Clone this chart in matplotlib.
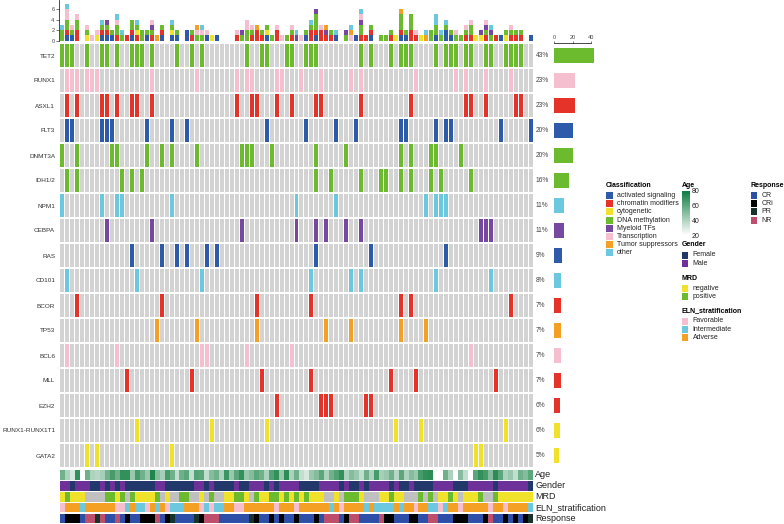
import matplotlib
matplotlib.use("Agg")
import matplotlib.pyplot as plt
import numpy as np
from matplotlib.colors import LinearSegmentedColormap
from matplotlib.patches import Rectangle
from matplotlib.transforms import blended_transform_factory

plt.rcParams['font.family'] = ['Liberation Sans', 'DejaVu Sans']

W, H = 784, 524
n_samples = 95

# genes (top to bottom) and their classification
genes = ['TET2', 'RUNX1', 'ASXL1', 'FLT3', 'DNMT3A', 'IDH1/2', 'NPM1', 'CEBPA', 'RAS',
         'CD101', 'BCOR', 'TP53', 'BCL6', 'MLL', 'EZH2', 'RUNX1-RUNX1T1', 'GATA2']
gene_class = ['DNA methylation', 'Transcription', 'chromatin modifiers', 'activated signaling',
              'DNA methylation', 'DNA methylation', 'other', 'Myeloid TFs', 'activated signaling',
              'other', 'chromatin modifiers', 'Tumor suppressors', 'Transcription',
              'chromatin modifiers', 'chromatin modifiers', 'cytogenetic', 'cytogenetic']
pct = [43, 23, 23, 20, 20, 16, 11, 11, 9, 8, 7, 7, 7, 7, 6, 6, 5]

# mutated sample columns per gene
mut_cols = [
    [0, 1, 2, 5, 8, 9, 11, 14, 15, 16, 18, 23, 26, 28, 37, 40, 41, 45, 46, 49, 50, 51, 60, 62,
     66, 68, 69, 70, 75, 77, 78, 79, 81, 82, 85, 86, 89, 90, 91, 92],
    [1, 2, 3, 5, 6, 7, 18, 27, 35, 37, 38, 43, 44, 48, 52, 58, 60, 71, 79, 81, 85, 90],
    [1, 3, 8, 9, 11, 14, 15, 18, 35, 38, 39, 43, 46, 51, 52, 60, 70, 81, 82, 85, 91, 92],
    [1, 2, 8, 9, 10, 17, 22, 25, 41, 49, 55, 59, 68, 69, 75, 77, 78, 88, 94],
    [0, 3, 10, 11, 17, 20, 22, 27, 36, 37, 38, 42, 51, 57, 68, 70, 74, 75, 80],
    [1, 3, 12, 14, 16, 51, 54, 60, 64, 65, 68, 70, 74, 76, 82],
    [0, 8, 11, 12, 22, 47, 55, 73, 75, 76, 77],
    [9, 18, 36, 47, 51, 53, 57, 60, 84, 85, 86],
    [14, 20, 23, 25, 29, 31, 51, 62, 77],
    [1, 15, 28, 50, 58, 60, 75, 86],
    [3, 20, 39, 50, 68, 70, 90],
    [19, 27, 39, 53, 58, 68, 73],
    [1, 11, 28, 29, 37, 46, 82],
    [13, 26, 40, 50, 66, 71, 87],
    [43, 52, 53, 54, 61, 62],
    [15, 30, 41, 67, 72, 89],
    [5, 7, 22, 83, 84],
]

class_names = ['activated signaling', 'chromatin modifiers', 'cytogenetic', 'DNA methylation',
               'Myeloid TFs', 'Transcription', 'Tumor suppressors', 'other']
class_colors = ['#2D5BAA', '#E5332A', '#F0E22B', '#6CBB2E', '#7648A0', '#F6BFD0',
                '#F4A024', '#6BC8DF']

# sample annotations
age = [55, 40, 30, 70, np.nan, 55, 40, 38, 42, 55, 65, 55, 70, 70, 45, 65, 55, 45, 75, 50,
       42, 65, 55, 35, 55, 60, 35, 62, 60, 35, 50, 55, 40, 68, 45, 60, 70, 45, 50, 60,
       55, 40, 62, 70, 45, 72, 40, 55, 35, 30, 45, 50, 60, 40, 55, 62, 70, 40, 50, 45,
       35, 55, 40, 65, 42, 45, 55, 38, 60, 40, 50, 45, 65, 70, 72, np.nan, np.nan, 55, 40, np.nan,
       50, 35, np.nan, 60, 70, 65, 50, 72, 60, 40, 45, 35, 55, 50, 60]
gender = list("MMFMMMFFMF" "MFMFFFFFFM" "MFFFFFFMMF" "MFFFFMFFMM" "MFMFMMMMFF"
              "FFMMMMFMFF" "MFMMMMFMFF" "MFFFFMMMMF" "FFMMMMMFMM" "MMMMF")
mrd = list("YGYYYNNNNG" "GYGNGYYYYG" "NYNNGGNNYN" "GNNYYGGYNG" "YYGGYGYGYG"
           "YYYNNYNGGG" "YNNNYYGYYN" "NNGNGNYYGY" "NYYYGNNGYY" "YYYYY")
eln = list("PAAAIAAAAA" "APPIAIIPAI" "APIIIAAAPI" "PIIAAPPAAA" "AAAPAAAPAA"
           "AAAAIAPAAA" "AIAIIIIAIA" "APAAIIPIAA" "PAAAAAPAAP" "AAAAI")
response = list("CKKKCNNPNC" "CNCKCCKKKN" "CKPCCCCPKN" "NNCCCCCCPK" "CCKCKCCKCC"
                "CKCNNNCKNN" "CCCCNKKCCC" "KKCCNNCCCK" "KKCCCKNCCK" "CKCKP")

gender_cols = {'F': '#22386A', 'M': '#6E3199'}
mrd_cols = {'Y': '#F0E22B', 'G': '#6CBB2E', 'N': '#C0C0C0'}
eln_cols = {'P': '#F6BFD0', 'I': '#6BC8DF', 'A': '#F4A024'}
resp_cols = {'C': '#2D4FA8', 'K': '#000000', 'P': '#16332C', 'N': '#BE4F6C'}
age_cmap = LinearSegmentedColormap.from_list('age', ['#FFFFFF', '#0A7A3B'])

grey = '#D3D3D3'
cls_idx = {c: i for i, c in enumerate(class_names)}
x = np.arange(n_samples)

fig = plt.figure(figsize=(W / 100, H / 100), dpi=100)


def px_axes(x0, y0, x1, y1):
    return fig.add_axes([x0 / W, 1 - y1 / H, (x1 - x0) / W, (y1 - y0) / H])


# main oncoprint grid
ax = px_axes(60, 43, 533, 468)
mat = np.zeros((len(genes), n_samples), dtype=bool)
for r, cols in enumerate(mut_cols):
    mat[r, cols] = True
    ax.bar(x, 0.92, bottom=r - 0.46, width=0.8, color=grey, linewidth=0)
    ax.bar(cols, 0.92, bottom=r - 0.46, width=0.8,
           color=class_colors[cls_idx[gene_class[r]]], linewidth=0)
ax.set_xlim(-0.5, n_samples - 0.5)
ax.set_ylim(len(genes) - 0.5, -0.5)
ax.set_xticks([])
ax.set_yticks(range(len(genes)))
ax.set_yticklabels(genes, fontsize=4.6, color='#333333')
ax.tick_params(axis='y', length=0, pad=3.5)
for s in ax.spines.values():
    s.set_visible(False)
tr = blended_transform_factory(ax.transAxes, ax.transData)
for r, p in enumerate(pct):
    ax.text(1.006, r, f'{p}%', transform=tr, fontsize=4.8, va='center', ha='left', color='#444444')

# top stacked bar of alteration counts
axt = px_axes(60, 0, 533, 40.7)
bottom = np.zeros(n_samples)
for ci, cname in enumerate(class_names):
    rows = [r for r, g in enumerate(gene_class) if g == cname]
    counts = mat[rows].sum(axis=0) if rows else np.zeros(n_samples)
    axt.bar(x, counts, bottom=bottom, width=0.8, color=class_colors[ci], linewidth=0)
    bottom += counts
axt.set_xlim(-0.5, n_samples - 0.5)
axt.set_ylim(0, 7.7)
axt.set_yticks([0, 2, 4, 6])
axt.tick_params(axis='y', labelsize=4, length=2, width=0.5, pad=1, colors='#444444')
axt.set_xticks([])
for s in ['top', 'right', 'bottom']:
    axt.spines[s].set_visible(False)
axt.spines['left'].set_linewidth(0.5)
axt.spines['left'].set_position(('outward', 1))

# right bar of percentages
axr = px_axes(554, 43, 596, 468)
for r, p in enumerate(pct):
    axr.barh(r, p, height=0.6, color=class_colors[cls_idx[gene_class[r]]], linewidth=0)
axr.set_ylim(len(genes) - 0.5, -0.5)
axr.set_xlim(0, 45)
axr.xaxis.tick_top()
axr.set_xticks([0, 20, 40])
axr.tick_params(axis='x', labelsize=4, length=1.5, width=0.5, pad=1, colors='#444444')
axr.set_yticks([])
for s in ['bottom', 'left', 'right']:
    axr.spines[s].set_visible(False)
axr.spines['top'].set_linewidth(0.5)
axr.spines['top'].set_bounds(0, 40)

# bottom annotation tracks
axb = px_axes(60, 469.5, 533, 524)
tracks = [
    [age_cmap((a - 20) / 60) if not np.isnan(a) else (1, 1, 1, 1) for a in age],
    [gender_cols[v] for v in gender],
    [mrd_cols[v] for v in mrd],
    [eln_cols[v] for v in eln],
    [resp_cols[v] for v in response],
]
track_names = ['Age', 'Gender', 'MRD', 'ELN_stratification', 'Response']
for t, cols in enumerate(tracks):
    axb.bar(x, 0.88, bottom=t - 0.44, width=1.0, color=cols, linewidth=0)
axb.set_xlim(-0.5, n_samples - 0.5)
axb.set_ylim(len(tracks) - 0.5, -0.5)
axb.set_xticks([])
axb.set_yticks([])
for s in axb.spines.values():
    s.set_visible(False)
trb = blended_transform_factory(axb.transAxes, axb.transData)
for t, name in enumerate(track_names):
    axb.text(1.005, t, name, transform=trb, fontsize=6.5, va='center', ha='left', color='#222222')

# legends drawn in pixel space
lg = fig.add_axes([0, 0, 1, 1])
lg.set_xlim(0, W)
lg.set_ylim(H, 0)
lg.axis('off')


def legend_block(x0, y0, title, labels, colors):
    lg.text(x0, y0, title, fontsize=5, fontweight='bold', va='center', ha='left')
    for i, (lab, col) in enumerate(zip(labels, colors)):
        yy = y0 + 10 + i * 8.1
        lg.add_patch(Rectangle((x0 + 0.5, yy - 3.5), 6.5, 7, color=col, linewidth=0))
        lg.text(x0 + 11, yy, lab, fontsize=5, va='center', ha='left', color='#222222')


legend_block(606, 185.7, 'Classification', class_names, class_colors)
legend_block(681.5, 245, 'Gender', ['Female', 'Male'], [gender_cols['F'], gender_cols['M']])
legend_block(681.5, 278.3, 'MRD', ['negative', 'positive'], [mrd_cols['Y'], mrd_cols['G']])
legend_block(681.5, 311, 'ELN_stratification', ['Favorable', 'Intermediate', 'Adverse'],
             [eln_cols['P'], eln_cols['I'], eln_cols['A']])
legend_block(750.5, 185.7, 'Response', ['CR', 'CRi', 'PR', 'NR'],
             [resp_cols['C'], resp_cols['K'], resp_cols['P'], resp_cols['N']])

lg.text(681.5, 185.7, 'Age', fontsize=5, fontweight='bold', va='center', ha='left')
axa = px_axes(682, 190.7, 689.5, 235)
axa.imshow(np.linspace(80, 20, 100).reshape(-1, 1), cmap=age_cmap, vmin=20, vmax=80,
           aspect='auto', extent=(0, 1, 20, 80))
axa.set_xticks([])
axa.yaxis.tick_right()
axa.set_yticks([20, 40, 60, 80])
axa.tick_params(axis='y', labelsize=5, length=0, pad=1.5, colors='#222222')
for s in axa.spines.values():
    s.set_visible(False)

fig.savefig('out.png', dpi=100)
